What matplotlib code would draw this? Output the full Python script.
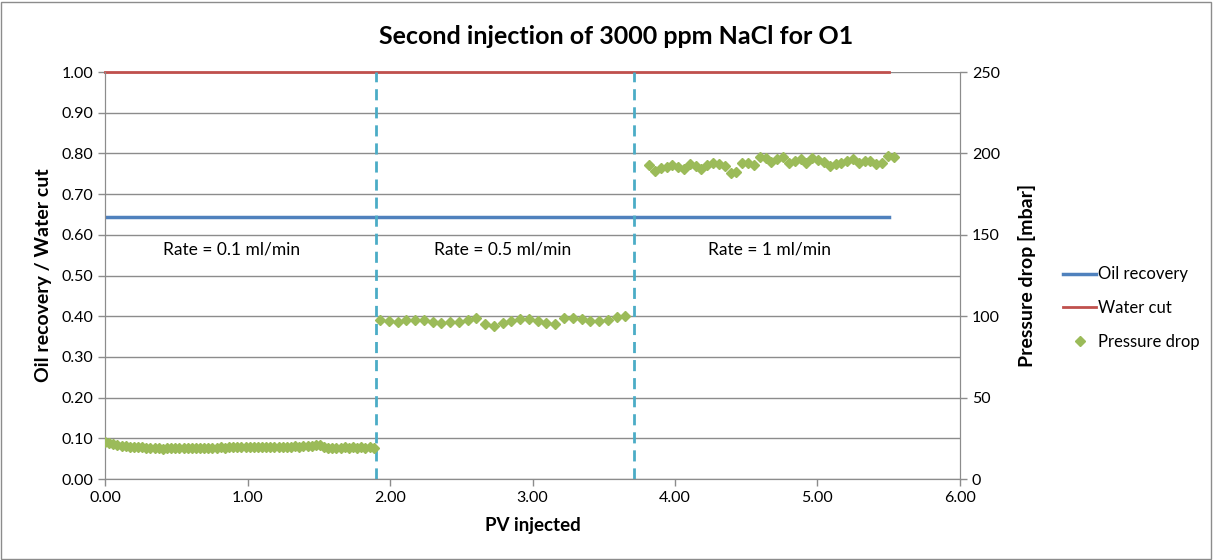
import matplotlib
matplotlib.use('Agg')
import matplotlib.pyplot as plt
from matplotlib.lines import Line2D
from matplotlib.patches import Rectangle
from matplotlib.ticker import FormatStrFormatter

plt.rcParams['font.family'] = ['Lato', 'DejaVu Sans']

# постоянные линии: нефтеотдача и обводненность
pv_lines = [0.0, 5.5]
oil_recovery = [0.645, 0.645]
water_cut = [1.0, 1.0]

# смена скорости закачки (PV)
rate_changes = [1.9, 3.71]
rate_labels = ['Rate = 0.1 ml/min', 'Rate = 0.5 ml/min', 'Rate = 1 ml/min']
rate_label_pv = [0.89, 2.79, 4.66]

# перепад давления, мбар
pv_1 = [0.000, 0.029, 0.058, 0.087, 0.116, 0.145, 0.174, 0.203, 0.232, 0.261,
        0.290, 0.319, 0.348, 0.377, 0.406, 0.435, 0.464, 0.493, 0.522, 0.551,
        0.580, 0.609, 0.638, 0.667, 0.696, 0.725, 0.754, 0.783, 0.812, 0.841,
        0.870, 0.899, 0.928, 0.957, 0.986, 1.015, 1.044, 1.073, 1.102, 1.131,
        1.160, 1.189, 1.218, 1.247, 1.276, 1.305, 1.334, 1.363, 1.392, 1.421,
        1.450, 1.479, 1.508, 1.537, 1.566, 1.595, 1.624, 1.653, 1.682, 1.711,
        1.740, 1.769, 1.798, 1.827, 1.856, 1.885]
dp_1 = [23.0, 22.4, 21.6, 20.9, 20.3, 20.0, 19.7, 19.6, 19.5, 19.4,
        19.3, 19.2, 19.0, 18.9, 18.7, 18.9, 19.0, 18.9, 19.0, 19.1,
        19.0, 19.1, 19.2, 19.1, 19.2, 19.3, 19.2, 19.3, 19.4, 19.3,
        19.4, 19.5, 19.4, 19.5, 19.6, 19.5, 19.6, 19.7, 19.6, 19.7,
        19.8, 19.7, 19.8, 19.9, 19.8, 19.9, 20.0, 19.9, 20.1, 20.0,
        20.2, 20.6, 21.2, 19.6, 19.3, 19.3, 19.2, 19.3, 19.4, 19.3,
        19.4, 19.3, 19.4, 19.3, 19.5, 19.2]

pv_2 = [1.930, 1.991, 2.053, 2.114, 2.176, 2.237, 2.299, 2.360, 2.422, 2.483,
        2.545, 2.606, 2.668, 2.729, 2.791, 2.852, 2.914, 2.975, 3.037, 3.098,
        3.160, 3.221, 3.283, 3.344, 3.406, 3.467, 3.529, 3.590, 3.652]
dp_2 = [97.7, 97.1, 96.6, 97.9, 97.9, 97.7, 96.6, 95.8, 96.2, 96.6,
        97.7, 98.7, 95.0, 94.0, 96.0, 97.3, 98.3, 98.1, 96.8, 96.0,
        95.2, 98.9, 98.7, 98.1, 97.3, 96.8, 97.7, 99.5, 100.3]

pv_3 = [3.818, 3.859, 3.900, 3.941, 3.982, 4.023, 4.063, 4.104, 4.145, 4.186,
        4.227, 4.268, 4.309, 4.350, 4.391, 4.431, 4.472, 4.513, 4.554, 4.595,
        4.636, 4.677, 4.718, 4.759, 4.799, 4.840, 4.881, 4.922, 4.963, 5.004,
        5.045, 5.086, 5.127, 5.168, 5.208, 5.249, 5.290, 5.331, 5.372, 5.413,
        5.454, 5.495, 5.536]
dp_3 = [192.9, 189.4, 190.8, 191.9, 192.7, 191.9, 190.4, 193.5, 192.3, 190.6,
        192.9, 193.9, 193.3, 192.3, 188.0, 188.8, 194.3, 194.3, 193.1, 197.6,
        197.0, 194.5, 196.8, 198.0, 193.9, 195.3, 196.6, 194.1, 197.4, 195.9,
        194.9, 192.3, 193.5, 194.3, 195.1, 196.6, 193.9, 195.1, 195.5, 193.7,
        194.3, 198.6, 197.6]

BLUE = '#4f81bd'
RED = '#c0504d'
GREEN = '#9bbb59'
AQUA = '#4bacc6'
GREY = '#8c8c8c'

fig = plt.figure(figsize=(12.13, 5.6), dpi=100)
ax = fig.add_axes([0.0866, 0.1446, 0.7048, 0.7268])
ax2 = ax.twinx()

# рамка всей диаграммы
fig.patches.append(Rectangle((0.001, 0.002), 0.997, 0.995, transform=fig.transFigure,
                             fill=False, edgecolor=GREY, lw=1))

ax.set_xlim(0, 6)
ax.set_ylim(0, 1)
ax2.set_ylim(0, 250)

ax.set_yticks([i / 10 for i in range(11)])
ax.set_xticks(range(7))
ax2.set_yticks(range(0, 251, 50))
ax.xaxis.set_major_formatter(FormatStrFormatter('%.2f'))
ax.yaxis.set_major_formatter(FormatStrFormatter('%.2f'))

ax.grid(axis='y', color=GREY, lw=1)
ax.set_axisbelow(True)
for a in (ax, ax2):
    a.spines['top'].set_visible(False)
    for s in ('left', 'right', 'bottom'):
        a.spines[s].set_color(GREY)
    a.tick_params(colors=GREY, labelcolor='black', labelsize=11.5, length=5, width=1)

ax.plot(pv_lines, oil_recovery, color=BLUE, lw=2.5, label='Oil recovery', zorder=3)
ax.plot(pv_lines, water_cut, color=RED, lw=2, label='Water cut', zorder=3, clip_on=False)
for x in rate_changes:
    ax.axvline(x, color=AQUA, lw=2, ls=(0, (4, 2.5)), zorder=3)
for x, t in zip(rate_label_pv, rate_labels):
    ax.text(x, 0.563, t, ha='center', va='center', fontsize=12.5)

for p, d in ((pv_1, dp_1), (pv_2, dp_2), (pv_3, dp_3)):
    ax2.plot(p, d, ls='none', marker='D', ms=5.5, color=GREEN, zorder=4)

fig.text(0.508, 0.935, 'Second injection of 3000 ppm NaCl for O1', ha='center', va='center',
         fontsize=18, fontweight='bold')
ax.set_xlabel('PV injected', fontsize=13.5, fontweight='bold', labelpad=9)
ax.set_ylabel('Oil recovery / Water cut', fontsize=14, fontweight='bold', labelpad=7)
ax2.set_ylabel('Pressure drop [mbar]', fontsize=14, fontweight='bold', labelpad=13)

handles = [Line2D([], [], color=BLUE, lw=2.5),
           Line2D([], [], color=RED, lw=2),
           Line2D([], [], ls='none', marker='D', ms=5.5, color=GREEN)]
fig.legend(handles, ['Oil recovery', 'Water cut', 'Pressure drop'],
           loc='center left', bbox_to_anchor=(0.864, 0.45), frameon=False,
           fontsize=12, handlelength=2.0, handletextpad=0.1, labelspacing=1.05)

fig.savefig('out.png', dpi=100)
